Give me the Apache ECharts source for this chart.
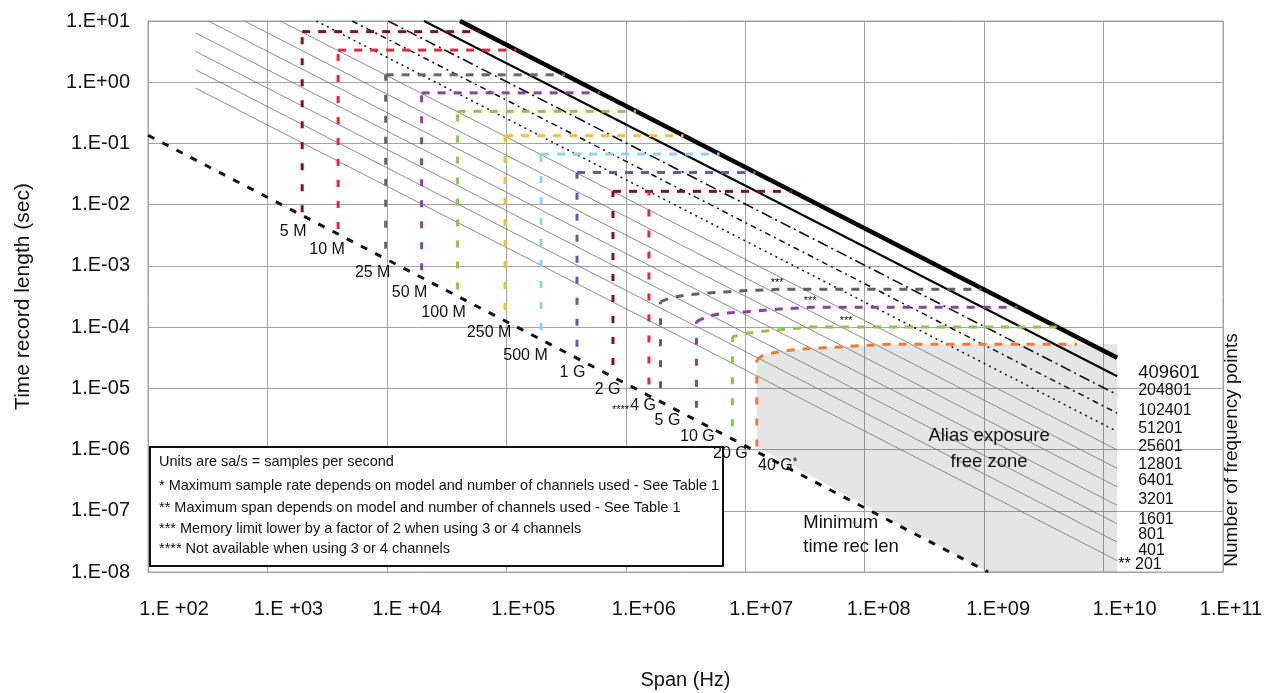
<!DOCTYPE html>
<html>
<head>
<meta charset="utf-8">
<script src="https://cdn.jsdelivr.net/npm/echarts@6/dist/echarts.min.js"></script>
<style>
  html, body { margin: 0; padding: 0; background: #fff; }
  #chart { width: 1269px; height: 693px; }
</style>
</head>
<body>
<div id="chart"></div>
<script>
// ---- Record-length lines: T = (N - 1) / span, one per number of frequency points ----
const freqPoints = [409601, 204801, 102401, 51201, 25601, 12801, 6401, 3201, 1601, 801, 401, 201];
const recordSpanRange = [250, 1.3e10];     // span (Hz) range the record lines cover
const maxRecordLength = 10;                // top of the chart (sec)

// ---- Sample-rate limits ----
const rateLabels = ['5 M', '10 M', '25 M', '50 M', '100 M', '250 M', '500 M', '1 G', '2 G', '4 G', '5 G', '10 G', '20 G', '40 G'];
const rateSpan = [1953, 3906, 9766, 19531, 39063, 97656, 195313, 390625, 781250, 1562500, 1953125, 3906250, 7812500, 1.25e7];
// lower end of each vertical (sec)
const rateMinT = [7.5e-3, 4.0e-3, 1.9e-3, 8.5e-4, 4.1e-4, 1.9e-4, 9.0e-5, 4.8e-5, 2.4e-5, 1.15e-5, 1.0e-5, 4.8e-6, 2.4e-6, 1.12e-6];
// upper end of each vertical (sec)
const rateTopT = [6.7, 3.35, 1.32, 0.67, 0.335, 0.134, 0.067, 0.0335, 0.0165, 0.0165, 2.6e-4, 1.23e-4, 6.2e-5, 2.92e-5];
// memory-limit paths [span, T] running from the top of each vertical to the record limit
const rateLimitPaths = [
  [[1953, 6.7], [61000, 6.7]],
  [[3906, 3.35], [122000, 3.35]],
  [[9766, 1.32], [310000, 1.32]],
  [[19531, 0.67], [611000, 0.67]],
  [[39063, 0.335], [1.22e6, 0.335]],
  [[97656, 0.134], [3.05e6, 0.134]],
  [[195313, 0.067], [6.1e6, 0.067]],
  [[390625, 0.0335], [1.22e7, 0.0335]],
  [[781250, 0.0165], [2.48e7, 0.0165]],
  [],
  [[1953125, 2.6e-4], [2.5e6, 3.1e-4], [3.4e6, 3.4e-4], [4.8e6, 3.6e-4], [7.7e6, 3.8e-4], [1.03e7, 3.95e-4], [2.0e7, 4.15e-4], [9.5e8, 4.15e-4]],
  [[3906250, 1.23e-4], [4.9e6, 1.52e-4], [6.5e6, 1.69e-4], [1.03e7, 1.79e-4], [1.84e7, 1.96e-4], [3.5e7, 2.11e-4], [1.9e9, 2.11e-4]],
  [[7812500, 6.2e-5], [7.9e6, 7.0e-5], [1.03e7, 7.96e-5], [1.84e7, 9.0e-5], [3.5e7, 1.0e-4], [4.05e9, 1.0e-4]],
  [[1.25e7, 2.92e-5], [1.42e7, 3.52e-5], [2.08e7, 4.1e-5], [3.7e7, 4.53e-5], [7.1e7, 4.81e-5], [1.5e8, 5.26e-5], [6.0e9, 5.26e-5]]
];
// "***" marks sit on these limit paths
const memoryNoteRates = [10, 11, 12];
const memoryNoteSpan = [1.85e7, 3.5e7, 7.0e7];

// Minimum time record length
const minRecordLine = [[100, 0.136], [1.08e9, 1e-8]];

// Tick labels
const xTickLabels = ['1.E +02', '1.E +03', '1.E +04', '1.E+05', '1.E+06', '1.E+07', '1.E+08', '1.E+09', '1.E+10', '1.E+11'];
const yTickLabels = ['1.E-08', '1.E-07', '1.E-06', '1.E-05', '1.E-04', '1.E-03', '1.E-02', '1.E-01', '1.E+00', '1.E+01'];

const legendLines = [
  'Units are sa/s = samples per second',
  '* Maximum sample rate depends on model and number of channels used - See Table 1',
  '** Maximum span depends on model and number of channels used - See Table 1',
  '*** Memory limit lower by a factor of 2 when using 3 or 4 channels',
  '**** Not available when using 3 or 4 channels'
];

// ---- styles ----
const FONT = '"Liberation Sans", Arial, sans-serif';
const TEXT = '#111';
const GRID = '#a3a3a3';
const rateColors = ['#8c0b1c', '#e2273c', '#666666', '#8e3fa3', '#8dc63f', '#f5c12e', '#8fd4ef', '#5c5fa5',
                    '#8c0b1c', '#e2273c', '#606060', '#8e3fa3', '#8dc63f', '#f07a34'];
const recordLineStyles = [
  { color: '#000', width: 4.5, type: 'solid' },
  { color: '#000', width: 2, type: 'solid' },
  { color: '#111', width: 1.6, type: [11, 4, 2, 4] },
  { color: '#111', width: 1.5, type: [6, 4, 2, 4] },
  { color: '#111', width: 1.5, type: [2, 4] }
];
const thinLineStyle = { color: '#7a7a7a', width: 0.85, type: 'solid' };
const freqLabelOffset = [[21, 15], [21, 14], [21, 15.5], [21, 15], [21, 14.6], [21, 14.4], [21, 12], [21, 12.5], [21, 14], [21, 11], [21, 8], [1, 4]];
const rateLabelOffset = [[-9, 19], [-11, 21], [-13, 24], [-12, 22.5], [-14, 23], [-16, 23], [-15.5, 25.7], [-4.5, 26], [-5.4, 24.7],
                         [7, 21], [7, 32.5], [1, 28.7], [-2, 27.5], [21, 19]];
const xLabelShift = [26, 21, 20, 17, 18, 16, 14, 14, 21, 8];

const chart = echarts.init(document.getElementById('chart'), null, { renderer: 'canvas' });

const series = [];

// alias exposure free zone: bounded by the 40 G limit, the right end of the lines,
// the chart bottom and the minimum record length line
const fortyG = rateLimitPaths[13];
const zoneTop = fortyG[fortyG.length - 1][1];
const aliasFreeZone = fortyG.concat([
  [recordSpanRange[1], zoneTop],
  [recordSpanRange[1], 1e-8],
  [minRecordLine[1][0], 1e-8],
  [rateSpan[13], rateMinT[13]]
]);
series.push({
  type: 'custom',
  name: 'aliasZone',
  silent: true,
  z: 1,
  data: [aliasFreeZone[0]],
  renderItem: function (params, api) {
    const pts = aliasFreeZone.map(function (p) { return api.coord(p); });
    return { type: 'polygon', shape: { points: pts }, style: { fill: 'rgba(0,0,0,0.1)' } };
  }
});

// record-length lines and their end labels
const freqLabelData = [];
freqPoints.forEach(function (n, i) {
  const k = n - 1;
  const s0 = Math.max(recordSpanRange[0], k / maxRecordLength);
  const s1 = recordSpanRange[1];
  const style = recordLineStyles[i] || thinLineStyle;
  series.push({
    type: 'line',
    name: String(n),
    silent: true,
    symbol: 'none',
    z: i < 5 ? 4 : 3,
    lineStyle: style,
    data: [[s0, k / s0], [s1, k / s1]]
  });
  const last = i === freqPoints.length - 1;
  freqLabelData.push({
    value: [s1, k / s1],
    label: {
      show: true,
      position: 'inside',
      align: 'left',
      verticalAlign: 'middle',
      offset: freqLabelOffset[i],
      formatter: last ? '** ' + n : String(n),
      fontFamily: FONT,
      fontSize: i === 0 ? 18.5 : 16,
      color: TEXT
    }
  });
});
series.push({
  type: 'scatter',
  name: 'freqLabels',
  silent: true,
  symbolSize: 0,
  itemStyle: { opacity: 1 },
  z: 7,
  data: freqLabelData
});

// minimum time record length
series.push({
  type: 'line',
  name: 'minRecord',
  silent: true,
  symbol: 'none',
  z: 6,
  lineStyle: { color: '#111', width: 3, type: [7, 9] },
  data: minRecordLine
});

// sample-rate verticals and memory-limit paths
rateSpan.forEach(function (s, i) {
  series.push({
    type: 'line',
    name: rateLabels[i] + ' vertical',
    silent: true,
    symbol: 'none',
    z: 5,
    lineStyle: { color: rateColors[i], width: 3, type: [7, 14] },
    data: [[s, rateMinT[i]], [s, rateTopT[i]]]
  });
  if (rateLimitPaths[i].length) {
    series.push({
      type: 'line',
      name: rateLabels[i] + ' limit',
      silent: true,
      symbol: 'none',
      z: 5,
      lineStyle: { color: rateColors[i], width: 3, type: [8, 8] },
      data: rateLimitPaths[i]
    });
  }
});

// sample-rate labels at the foot of each vertical
series.push({
  type: 'scatter',
  name: 'rateLabels',
  silent: true,
  symbolSize: 0,
  itemStyle: { opacity: 1 },
  z: 7,
  data: rateSpan.map(function (s, i) {
    let fmt = rateLabels[i];
    let align = 'center';
    if (i === 9) { fmt = '{st|****}' + rateLabels[i]; align = 'right'; }
    if (i === 13) { fmt = rateLabels[i] + '{sup|*}'; }
    return {
      value: [s, rateMinT[i]],
      label: {
        show: true,
        position: 'inside',
        offset: rateLabelOffset[i],
        align: align,
        verticalAlign: 'middle',
        formatter: fmt,
        fontFamily: FONT,
        fontSize: 16,
        color: TEXT,
        rich: {
          st: { fontFamily: FONT, fontSize: 11, color: TEXT, padding: [9, 1, 0, 0] },
          sup: { fontFamily: FONT, fontSize: 12, color: TEXT, padding: [0, 0, 6, 0] }
        }
      }
    };
  })
});

// "***" notes and text annotations
const noteData = memoryNoteRates.map(function (r, j) {
  const path = rateLimitPaths[r];
  return {
    value: [memoryNoteSpan[j], path[path.length - 1][1]],
    label: { show: true, position: 'top', distance: 1, formatter: '***', fontFamily: FONT, fontSize: 11, color: TEXT }
  };
});
noteData.push({
  value: [1.1e9, 1.03e-6],
  label: {
    show: true, position: 'inside', align: 'center', verticalAlign: 'middle',
    formatter: 'Alias exposure\nfree zone', lineHeight: 26,
    fontFamily: FONT, fontSize: 18.5, color: TEXT
  }
});
noteData.push({
  value: [3.06e7, 4.03e-8],
  label: {
    show: true, position: 'inside', align: 'left', verticalAlign: 'middle',
    formatter: 'Minimum\ntime rec len', lineHeight: 24,
    fontFamily: FONT, fontSize: 18.5, color: TEXT
  }
});
series.push({
  type: 'scatter',
  name: 'notes',
  silent: true,
  symbolSize: 0,
  itemStyle: { opacity: 1 },
  z: 7,
  data: noteData
});

const xRich = {};
xLabelShift.forEach(function (d, i) {
  xRich['s' + i] = { fontFamily: FONT, fontSize: 20, color: TEXT, padding: [0, 0, 0, 2 * d] };
});

// notes box: above the grid lines, below the series and their labels
const legendChildren = [{
  type: 'rect',
  z: 1,
  shape: { x: 0, y: 0, width: 573, height: 119 },
  style: { fill: '#fff', stroke: '#111', lineWidth: 2 }
}];
const legendY = [15, 38.5, 60.5, 81.5, 102];
legendLines.forEach(function (t, i) {
  legendChildren.push({
    type: 'text',
    z: 1,
    x: 9, y: legendY[i],
    style: { text: t, fill: TEXT, font: '14.5px ' + FONT, textVerticalAlign: 'middle' }
  });
});

chart.setOption({
  animation: false,
  backgroundColor: '#fff',
  grid: {
    left: 148, right: 46, top: 21, bottom: 121,
    show: true, borderColor: GRID, borderWidth: 1,
    containLabel: false, outerBoundsMode: 'none'
  },
  xAxis: {
    type: 'log',
    logBase: 10,
    min: 100,
    max: 1e11,
    splitNumber: 9,
    name: 'Span (Hz)',
    nameLocation: 'middle',
    nameGap: 98,
    nameTextStyle: { fontFamily: FONT, fontSize: 20, color: TEXT },
    axisLine: { show: true, lineStyle: { color: GRID, width: 1 } },
    axisTick: { show: false },
    splitLine: { show: true, lineStyle: { color: GRID, width: 1 } },
    axisLabel: {
      interval: 0,
      margin: 27,
      fontFamily: FONT,
      fontSize: 20,
      color: TEXT,
      formatter: function (v) {
        const i = Math.round(Math.log10(v)) - 2;
        return '{s' + i + '|' + xTickLabels[i] + '}';
      },
      rich: xRich
    }
  },
  yAxis: {
    type: 'log',
    logBase: 10,
    min: 1e-8,
    max: 10,
    splitNumber: 9,
    name: 'Time record length (sec)',
    nameLocation: 'middle',
    nameGap: 114,
    nameTextStyle: { fontFamily: FONT, fontSize: 21, color: TEXT },
    axisLine: { show: true, lineStyle: { color: GRID, width: 1 } },
    axisTick: { show: false },
    splitLine: { show: true, lineStyle: { color: GRID, width: 1 } },
    axisLabel: {
      interval: 0,
      margin: 18,
      fontFamily: FONT,
      fontSize: 20,
      color: TEXT,
      formatter: function (v) {
        return yTickLabels[Math.round(Math.log10(v)) + 8];
      }
    }
  },
  graphic: [
    {
      type: 'text',
      x: 1232, y: 450,
      rotation: Math.PI / 2,
      style: { text: 'Number of frequency points', fill: TEXT, font: '19px ' + FONT, textAlign: 'center', textVerticalAlign: 'middle' },
      z: 10
    },
    {
      type: 'group',
      x: 150, y: 447,
      children: legendChildren
    }
  ],
  series: series
});
</script>
</body>
</html>
